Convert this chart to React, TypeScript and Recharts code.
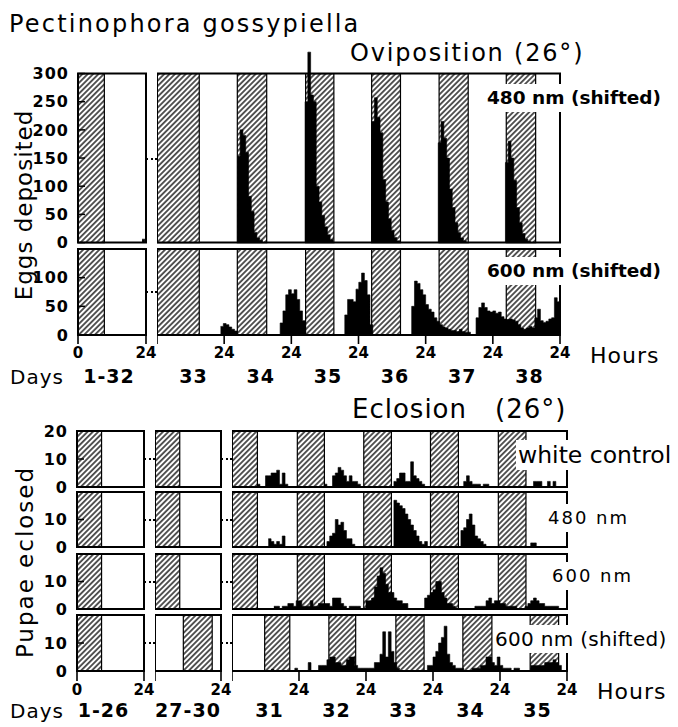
import React from 'react';
import { ComposedChart, Area, XAxis, YAxis, ReferenceArea } from 'recharts';

type Burst = [number, number[]]; // [hour of first 1-h bin, counts]
type Span = [number, number];

// ---------- Oviposition (26°) ----------
const oviDayA = '1-32';
const oviDaysB = ['33', '34', '35', '36', '37', '38'];
const oviTicks480 = [0, 50, 100, 150, 200, 250, 300];
const oviTicks600 = [0, 50, 100];
const oviDarkA: Span[] = [[0, 9.3]];
const oviDarkB: Span[] = [[0, 15.1], [28.7, 39.2], [53.1, 63.2], [76.7, 87], [100.8, 111.2], [124.8, 135.3]];

const ovi480A: Burst[] = [[22.6, [6]]];
const ovi480B: Burst[] = [
  [28.7, [153, 200, 190, 160, 82, 55, 18, 8, 4]],
  [52.9, [250, 338, 262, 250, 100, 72, 48, 28, 14, 5]],
  [76.7, [215, 257, 222, 195, 112, 72, 42, 22, 9, 3]],
  [100.5, [177, 215, 185, 150, 95, 62, 35, 18, 8, 3]],
  [124.5, [142, 180, 150, 110, 62, 35, 16, 6, 2]],
];
const ovi600B: Burst[] = [
  [22.7, [15, 20, 18, 14, 10, 7]],
  [44, [21, 42, 70, 79, 72, 79, 62, 42, 25]],
  [67.1, [35, 62, 62, 58, 80, 92, 108, 95, 70, 18]],
  [91, [50, 94, 90, 79, 70, 53, 45, 40, 30, 24, 18, 14, 12, 10, 8, 8, 6, 10, 6, 5, 5]],
  [114, [30, 48, 56, 48, 42, 40, 42, 38, 40, 32, 28, 27, 28, 26, 24, 18, 12, 10, 12, 15, 12, 30, 45, 25, 22, 24, 28, 30, 65, 58]],
];

// ---------- Eclosion (26°) ----------
const eclDayA = '1-26';
const eclDayB = '27-30';
const eclDaysC = ['31', '32', '33', '34', '35'];
const eclTicksTop = [0, 10, 20];
const eclTicks = [0, 10];
const eclDarkA: Span[] = [[0, 8.8]];
const eclDarkB: Span[] = [[0, 9]];
const eclDarkBShift: Span[] = [[10.3, 20.8]];
const eclDarkC: Span[] = [[0, 9.1], [23.4, 33.1], [47.2, 57.1], [71.1, 81.1], [95.4, 105.3]];
const eclDarkCShift: Span[] = [[11.7, 20.7], [34.7, 44.3], [58.7, 68.8], [82.7, 93.1], [106.8, 117]];

const eclWhite: Burst[] = [
  [9, [1, 0, 0, 4, 4, 5, 5, 6, 1, 5, 1]],
  [33, [1, 0, 0, 4, 5, 7, 6, 4, 2, 4, 2, 2, 1]],
  [57, [0, 2, 3, 5, 5, 2, 2, 9, 4, 3, 2, 1]],
  [83, [2, 4, 2, 1, 1, 1, 0, 1, 1]],
  [108, [2, 2, 2, 0, 0, 2, 0, 2]],
];
const ecl480: Burst[] = [
  [13, [3, 2, 1, 2, 1, 4]],
  [34, [2, 4, 5, 10, 8, 9, 6, 3, 3, 1]],
  [58, [17, 16, 15, 14, 12, 10, 8, 6, 4, 2, 1, 2]],
  [82, [6, 7, 10, 12, 8, 4, 3, 2, 1]],
  [107, [1.5, 1.5]],
];
const ecl600: Burst[] = [
  [15, [1, 1, 0, 1, 1, 2, 2, 1, 3, 3, 1, 1, 1, 3, 1, 1, 2, 2, 2, 2, 1, 4, 4, 4, 2, 1, 0, 1, 1, 1, 1]],
  [48, [3, 3, 4, 8, 12, 15, 13, 9, 6, 6, 4, 3, 3, 2, 2]],
  [69, [4, 5, 6, 7, 10, 10, 6, 4, 2, 2, 1]],
  [87, [1, 1, 1, 1, 3, 4, 2, 3, 3, 2, 2, 1, 1, 1, 1]],
  [105, [1, 2, 3, 4, 3, 2, 2, 1, 1, 1, 1, 1]],
];
const ecl600Shift: Burst[] = [
  [14, [0.6]],
  [22.5, [1]],
  [27.3, [3]],
  [31, [2, 2, 2, 4, 5, 5, 3, 3, 2, 2, 4, 5, 5, 2, 1, 1, 1, 1, 1, 1, 3, 3, 6, 14, 5, 14, 7, 3, 1]],
  [70, [2, 2, 5, 7, 10, 12, 16, 6, 3, 2, 1, 1, 1]],
  [86, [1, 1, 1, 2, 2, 5, 5, 3, 2, 5, 2, 1, 1, 1, 0, 1, 1]],
  [107, [2, 2, 2, 2, 2, 3, 3, 3, 4, 3, 2]],
];

const FONT = '"DejaVu Sans", Verdana, sans-serif';
const LP = 62; // room for the left tick labels
const PAD = 10; // spare room above/below the plot so edge labels are not clipped
const RPAD = 14;

const toSteps = (bursts: Burst[]) => {
  const pts: { h: number; v: number }[] = [];
  bursts.forEach(([start, vals]) => {
    vals.forEach((v, i) => pts.push({ h: start + i, v }));
    pts.push({ h: start + vals.length, v: 0 });
  });
  return pts;
};

const dayTicks = (days: number) => Array.from({ length: days + 1 }, (_, i) => i * 24);

type SegProps = {
  x: number;
  w: number;
  top: number;
  h: number;
  hours: number;
  yMax: number;
  yTop?: number;
  dark: Span[];
  bursts: Burst[];
  yTicks?: number[];
  rightTicks?: number[];
  xTicks?: number[];
  zeroLabel?: string;
  xTickSize?: number;
};

function Seg(p: SegProps) {
  const yTop = p.yTop ?? p.yMax;
  const plotH = (p.h * yTop) / p.yMax;
  const lw = p.yTicks ? LP : 0;
  const xh = p.xTicks ? 32 : 0;
  const data = toSteps(p.bursts);
  return (
    <div style={{ position: 'absolute', left: p.x - lw, top: p.top - (plotH - p.h) - PAD }}>
      <ComposedChart
        width={lw + p.w + 1 + RPAD}
        height={plotH + xh + PAD + (p.xTicks ? 0 : PAD)}
        data={data}
        margin={{ top: PAD, right: RPAD, bottom: p.xTicks ? 0 : PAD, left: 0 }}
      >
        <defs>
          <pattern id="hatch" patternUnits="userSpaceOnUse" width={3.8} height={3.8} patternTransform="rotate(45)">
            <line x1={1.9} y1={0} x2={1.9} y2={3.8} stroke="#000" strokeWidth={1.3} />
          </pattern>
        </defs>
        <XAxis
          type="number"
          dataKey="h"
          domain={[0, p.hours]}
          allowDataOverflow
          hide={!p.xTicks}
          ticks={p.xTicks}
          interval={0}
          height={xh || 30}
          axisLine={false}
          tickSize={p.xTickSize ?? 9}
          tickMargin={3}
          tickLine={{ stroke: '#000', strokeWidth: 1.6 }}
          tickFormatter={(v: number) => (v === 0 ? p.zeroLabel ?? '' : '24')}
          tick={{ fill: '#000', fontSize: 15, fontWeight: 600, fontFamily: FONT }}
        />
        <YAxis
          type="number"
          domain={[0, yTop]}
          allowDataOverflow
          hide={!p.yTicks}
          ticks={p.yTicks}
          interval={0}
          width={LP}
          axisLine={false}
          tickSize={-7}
          tickMargin={16}
          tickLine={{ stroke: '#000', strokeWidth: 1.5 }}
          tick={{ fill: '#000', fontSize: 16, fontWeight: 600, fontFamily: FONT, letterSpacing: 1 }}
        />
        <YAxis
          yAxisId="r"
          orientation="right"
          type="number"
          domain={[0, yTop]}
          allowDataOverflow
          width={1}
          ticks={p.rightTicks}
          interval={0}
          tick={false}
          axisLine={false}
          tickLine={p.rightTicks ? { stroke: '#000', strokeWidth: 1.3 } : false}
          tickSize={-4}
        />
        {p.dark.map(([a, b], i) => (
          <ReferenceArea
            key={i}
            x1={a}
            x2={b}
            y1={0}
            y2={p.yMax}
            fill="url(#hatch)"
            fillOpacity={1}
            stroke="#000"
            strokeWidth={1.2}
          />
        ))}
        <Area
          type="stepAfter"
          dataKey="v"
          fill="#000"
          fillOpacity={1}
          stroke="#000"
          strokeWidth={0.6}
          dot={false}
          activeDot={false}
          isAnimationActive={false}
        />
        <ReferenceArea x1={0} x2={p.hours} y1={0} y2={p.yMax} fill="none" stroke="#000" strokeWidth={2} />
      </ComposedChart>
    </div>
  );
}

const txt = (extra: React.CSSProperties): React.CSSProperties => ({
  position: 'absolute',
  fontFamily: FONT,
  lineHeight: 1,
  whiteSpace: 'nowrap',
  color: '#000',
  ...extra,
});

const tag = (extra: React.CSSProperties): React.CSSProperties =>
  txt({ background: '#fff', padding: '0 2px', lineHeight: '28px', ...extra });

function Gap({ x1, x2, y }: { x1: number; x2: number; y: number }) {
  return <div style={{ position: 'absolute', left: x1, top: y - 1, width: x2 - x1, borderTop: '2px dotted #000' }} />;
}

function DayRow({ y, segs }: { y: number; segs: { x: number; w: number; labels: string[]; shift: number }[] }) {
  return (
    <>
      {segs.flatMap((s, si) =>
        s.labels.map((t, i) => (
          <div
            key={`${si}-${i}`}
            style={txt({
              left: s.x + ((i + 0.5) * s.w) / s.labels.length + s.shift - 40,
              width: 80,
              top: y,
              textAlign: 'center',
              fontSize: 19,
              fontWeight: 600,
              letterSpacing: 1,
            })}
          >
            {t}
          </div>
        ))
      )}
    </>
  );
}

export default function App() {
  const oA = { x: 78, w: 68 };
  const oB = { x: 157, w: 403 };
  const eA = { x: 77, w: 67 };
  const eB = { x: 155, w: 66 };
  const eC = { x: 232, w: 335 };
  const O1 = { top: 74, h: 169 };
  const O2 = { top: 249, h: 86 };
  const E = [
    { top: 431, h: 56 },
    { top: 492, h: 55 },
    { top: 554, h: 55 },
    { top: 615, h: 56 },
  ];
  const eclRows = [
    { bursts: eclWhite, darkB: eclDarkB, darkC: eclDarkC, ticks: eclTicksTop },
    { bursts: ecl480, darkB: eclDarkB, darkC: eclDarkC, ticks: eclTicks },
    { bursts: ecl600, darkB: eclDarkB, darkC: eclDarkC, ticks: eclTicks },
    { bursts: ecl600Shift, darkB: eclDarkBShift, darkC: eclDarkCShift, ticks: eclTicks },
  ];

  return (
    <div style={{ position: 'absolute', left: 0, top: 0, width: 678, height: 727, background: '#fff', overflow: 'hidden' }}>
      {/* oviposition */}
      <Seg {...oA} {...O1} hours={24} yMax={300} yTop={340} dark={oviDarkA} bursts={ovi480A}
        yTicks={oviTicks480} rightTicks={[25, 50, 75, 100, 125, 150, 175, 200, 225, 250, 275]} />
      <Seg {...oB} {...O1} hours={144} yMax={300} yTop={340} dark={oviDarkB} bursts={ovi480B}
        rightTicks={[50, 100, 150, 200, 250]} />
      <Seg {...oA} {...O2} hours={24} yMax={150} dark={oviDarkA} bursts={[]}
        yTicks={oviTicks600} rightTicks={[25, 50, 75, 100, 125]} xTicks={dayTicks(1)} zeroLabel="0" />
      <Seg {...oB} {...O2} hours={144} yMax={150} dark={oviDarkB} bursts={ovi600B}
        rightTicks={[50, 100]} xTicks={dayTicks(6)} />
      <Gap x1={146} x2={157} y={159} />
      <Gap x1={146} x2={157} y={292} />

      {/* eclosion */}
      {eclRows.map((r, i) => (
        <React.Fragment key={i}>
          <Seg {...eA} {...E[i]} hours={24} yMax={20} dark={eclDarkA} bursts={[]} yTicks={r.ticks}
            rightTicks={[5, 10, 15]} xTicks={i === 3 ? dayTicks(1) : undefined} zeroLabel="0" xTickSize={10} />
          <Seg {...eB} {...E[i]} hours={24} yMax={20} dark={r.darkB} bursts={[]}
            rightTicks={[5, 10, 15]} xTicks={i === 3 ? dayTicks(1) : undefined} xTickSize={10} />
          <Seg {...eC} {...E[i]} hours={120} yMax={20} dark={r.darkC} bursts={r.bursts}
            rightTicks={[5, 10, 15]} xTicks={i === 3 ? dayTicks(5) : undefined} xTickSize={10} />
          <Gap x1={144} x2={155} y={E[i].top + E[i].h / 2} />
          <Gap x1={221} x2={232} y={E[i].top + E[i].h / 2} />
        </React.Fragment>
      ))}

      {/* titles and labels */}
      <div style={txt({ left: 9, top: 12, fontSize: 24, letterSpacing: 2.2 })}>Pectinophora gossypiella</div>
      <div style={txt({ left: 350, top: 41, fontSize: 24, letterSpacing: 1.8 })}>Oviposition (26°)</div>
      <div style={txt({ left: 352, top: 396, fontSize: 26, letterSpacing: 1 })}>Eclosion</div>
      <div style={txt({ left: 495, top: 396, fontSize: 26, letterSpacing: 1 })}>(26°)</div>

      <div style={tag({ left: 485, top: 84, fontSize: 18.5, fontWeight: 600 })}>480 nm (shifted)</div>
      <div style={tag({ left: 485, top: 257, fontSize: 18.5, fontWeight: 600 })}>600 nm (shifted)</div>
      <div style={tag({ left: 516, top: 440, fontSize: 23.5, lineHeight: '30px' })}>white control</div>
      <div style={tag({ left: 546, top: 504, fontSize: 18, letterSpacing: 2 })}>480 nm</div>
      <div style={tag({ left: 550, top: 562, fontSize: 18, letterSpacing: 2 })}>600 nm</div>
      <div style={tag({ left: 493, top: 625, fontSize: 20, letterSpacing: 0.3 })}>600 nm (shifted)</div>

      <div style={txt({ left: 24, top: 205, fontSize: 23, letterSpacing: 1, transform: 'translate(-50%,-50%) rotate(-90deg)' })}>
        Eggs deposited
      </div>
      <div style={txt({ left: 25, top: 562, fontSize: 23, letterSpacing: 2, transform: 'translate(-50%,-50%) rotate(-90deg)' })}>
        Pupae eclosed
      </div>

      <div style={txt({ left: 590, top: 345, fontSize: 22, letterSpacing: 1 })}>Hours</div>
      <div style={txt({ left: 597, top: 681, fontSize: 22, letterSpacing: 1 })}>Hours</div>

      <div style={txt({ left: 10, top: 367, fontSize: 20, letterSpacing: 1 })}>Days</div>
      <DayRow y={367} segs={[
        { ...oA, labels: [oviDayA], shift: -3 },
        { ...oB, labels: oviDaysB, shift: 3 },
      ]} />
      <div style={txt({ left: 10, top: 701, fontSize: 20, letterSpacing: 1 })}>Days</div>
      <DayRow y={701} segs={[
        { ...eA, labels: [eclDayA], shift: -7 },
        { ...eB, labels: [eclDayB], shift: 0 },
        { ...eC, labels: eclDaysC, shift: 4 },
      ]} />
    </div>
  );
}
